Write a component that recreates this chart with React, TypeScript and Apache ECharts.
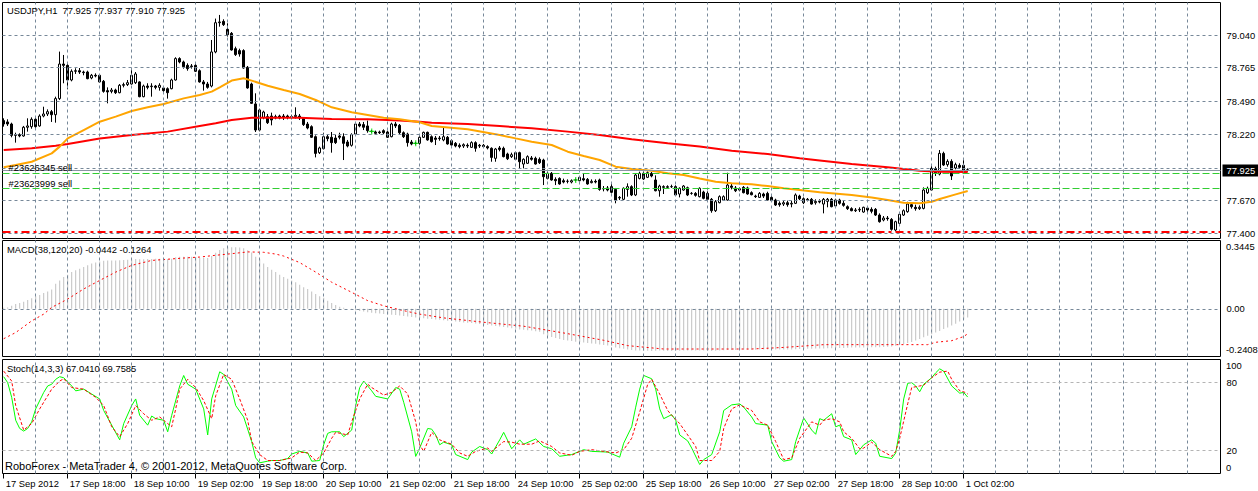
import React, { useEffect, useRef } from 'react';
import * as echarts from 'echarts';

// ---------------- DATA ----------------
const OPEN = [
  78.332,78.321,78.304,78.210,78.216,78.205,78.277,78.282,78.343,78.288,
  78.370,78.387,78.406,78.381,78.514,78.800,78.789,78.668,78.740,78.745,
  78.734,78.734,78.685,78.707,78.707,78.657,78.580,78.574,78.585,78.563,
  78.624,78.630,78.635,78.646,78.652,78.530,78.618,78.613,78.618,78.607,
  78.602,78.596,78.596,78.668,78.845,78.817,78.789,78.778,78.789,78.745,
  78.652,78.635,78.618,78.900,79.142,79.153,79.087,79.054,78.927,78.911,
  78.911,78.773,78.635,78.470,78.254,78.359,78.365,78.370,78.365,78.370,
  78.370,78.370,78.365,78.365,78.370,78.348,78.304,78.282,78.199,78.067,
  78.100,78.199,78.194,78.188,78.205,78.199,78.155,78.128,78.221,78.304,
  78.299,78.288,78.243,78.238,78.238,78.249,78.238,78.199,78.304,78.293,
  78.232,78.221,78.155,78.144,78.144,78.194,78.235,78.199,78.188,78.183,
  78.172,78.194,78.166,78.144,78.128,78.122,78.128,78.111,78.150,78.122,
  78.128,78.117,78.103,78.020,78.106,78.103,78.056,78.034,78.012,78.067,
  77.973,77.979,78.023,78.020,78.012,78.006,77.854,77.896,77.846,77.854,
  77.835,77.830,77.824,77.841,77.835,77.852,77.846,77.819,77.830,77.841,
  77.769,77.775,77.786,77.763,77.692,77.681,77.763,77.786,77.717,77.854,
  77.896,77.863,77.896,77.841,77.752,77.786,77.780,77.786,77.786,77.725,
  77.758,77.777,77.730,77.730,77.703,77.741,77.730,77.681,77.587,77.653,
  77.675,77.675,77.791,77.775,77.758,77.780,77.775,77.736,77.708,77.697,
  77.725,77.730,77.697,77.675,77.648,77.642,77.653,77.642,77.648,77.708,
  77.686,77.675,77.681,77.653,77.664,77.642,77.664,77.681,77.626,77.675,
  77.648,77.620,77.604,77.587,77.593,77.576,77.609,77.598,77.598,77.551,
  77.510,77.526,77.515,77.427,77.482,77.551,77.579,77.637,77.615,77.604,
  77.606,77.736,77.758,77.935,77.890,78.061,77.968,77.995,77.940,77.962,
  77.962,77.925
];
const CLOSE = [
  78.304,78.304,78.210,78.216,78.205,78.277,78.288,78.343,78.282,78.370,
  78.387,78.406,78.381,78.514,78.800,78.789,78.668,78.740,78.745,78.734,
  78.729,78.679,78.707,78.701,78.652,78.574,78.569,78.585,78.563,78.624,
  78.630,78.646,78.707,78.718,78.530,78.618,78.607,78.618,78.607,78.624,
  78.580,78.563,78.668,78.845,78.817,78.778,78.762,78.784,78.740,78.652,
  78.635,78.607,78.900,79.142,79.148,79.126,79.043,78.916,78.878,78.883,
  78.767,78.602,78.475,78.254,78.420,78.403,78.315,78.337,78.354,78.354,
  78.359,78.359,78.359,78.376,78.354,78.299,78.271,78.194,78.061,78.106,
  78.199,78.183,78.150,78.150,78.194,78.144,78.122,78.216,78.304,78.288,
  78.277,78.249,78.243,78.227,78.232,78.232,78.194,78.304,78.288,78.232,
  78.199,78.150,78.139,78.144,78.194,78.235,78.172,78.158,78.177,78.188,
  78.199,78.139,78.130,78.122,78.117,78.133,78.122,78.150,78.103,78.128,
  78.117,78.106,78.028,78.097,78.094,78.034,78.017,78.050,78.067,77.992,
  78.012,78.034,78.012,77.973,77.984,77.868,77.896,77.841,77.835,77.808,
  77.824,77.830,77.835,77.841,77.863,77.841,77.808,77.830,77.824,77.763,
  77.769,77.758,77.739,77.675,77.697,77.772,77.786,77.717,77.882,77.896,
  77.849,77.901,77.874,77.752,77.791,77.780,77.786,77.786,77.717,77.772,
  77.791,77.717,77.730,77.714,77.772,77.689,77.681,77.587,77.661,77.703,
  77.703,77.799,77.780,77.752,77.769,77.736,77.725,77.719,77.703,77.730,
  77.708,77.675,77.670,77.634,77.637,77.653,77.637,77.648,77.717,77.686,
  77.653,77.681,77.642,77.664,77.659,77.681,77.681,77.620,77.675,77.648,
  77.631,77.604,77.587,77.593,77.598,77.615,77.593,77.582,77.551,77.496,
  77.526,77.521,77.433,77.496,77.557,77.587,77.642,77.620,77.604,77.615,
  77.758,77.772,77.937,77.896,78.061,77.965,77.995,77.874,77.968,77.946,
  77.918,77.925
];
const HIGH = [
  78.351,78.343,78.315,78.232,78.227,78.288,78.351,78.359,78.359,78.384,
  78.447,78.425,78.420,78.530,78.903,78.875,78.806,78.756,78.765,78.767,
  78.745,78.745,78.718,78.723,78.718,78.668,78.607,78.602,78.596,78.635,
  78.646,78.668,78.751,78.734,78.657,78.630,78.641,78.641,78.627,78.641,
  78.618,78.607,78.679,78.856,78.856,78.828,78.806,78.800,78.800,78.756,
  78.668,78.652,78.999,79.176,79.206,79.170,79.137,79.065,78.944,78.927,
  78.922,78.784,78.646,78.558,78.431,78.414,78.387,78.398,78.381,78.381,
  78.387,78.381,78.381,78.442,78.387,78.359,78.321,78.293,78.210,78.117,
  78.232,78.216,78.238,78.216,78.232,78.227,78.172,78.227,78.321,78.321,
  78.321,78.332,78.254,78.249,78.249,78.260,78.249,78.315,78.321,78.304,
  78.243,78.232,78.172,78.155,78.205,78.241,78.241,78.210,78.205,78.205,
  78.274,78.205,78.177,78.155,78.144,78.144,78.144,78.161,78.161,78.139,
  78.139,78.128,78.111,78.106,78.122,78.117,78.067,78.067,78.075,78.075,
  78.020,78.045,78.039,78.034,78.028,78.017,77.907,77.907,77.863,77.863,
  77.852,77.846,77.846,77.852,77.874,77.890,77.857,77.846,77.846,77.852,
  77.791,77.791,77.808,77.775,77.708,77.780,77.813,77.797,77.896,77.910,
  77.907,77.912,77.907,77.879,77.802,77.797,77.797,77.802,77.797,77.780,
  77.799,77.786,77.741,77.741,77.780,77.752,77.747,77.692,77.675,77.714,
  77.714,77.901,77.808,77.791,77.780,77.791,77.786,77.747,77.719,77.741,
  77.736,77.744,77.708,77.686,77.664,77.670,77.670,77.670,77.730,77.719,
  77.697,77.692,77.692,77.681,77.681,77.692,77.692,77.692,77.686,77.686,
  77.670,77.631,77.615,77.609,77.615,77.620,77.620,77.615,77.609,77.565,
  77.543,77.543,77.526,77.504,77.565,77.598,77.661,77.653,77.637,77.631,
  77.780,77.786,77.957,77.951,78.089,78.075,78.012,78.012,77.984,77.979,
  78.012,77.937
];
const LOW = [
  78.282,78.288,78.194,78.150,78.194,78.199,78.241,78.265,78.265,78.282,
  78.359,78.370,78.321,78.315,78.503,78.641,78.591,78.657,78.718,78.718,
  78.707,78.674,78.674,78.690,78.646,78.563,78.475,78.558,78.552,78.558,
  78.607,78.618,78.630,78.635,78.525,78.525,78.591,78.530,78.591,78.580,
  78.569,78.514,78.591,78.663,78.806,78.762,78.745,78.762,78.734,78.646,
  78.580,78.596,78.607,78.889,79.109,79.115,79.027,78.911,78.867,78.861,
  78.762,78.596,78.470,78.238,78.243,78.343,78.304,78.293,78.343,78.343,
  78.337,78.343,78.343,78.348,78.337,78.288,78.260,78.188,78.028,78.056,
  78.094,78.161,78.067,78.139,78.177,78.006,78.111,78.117,78.216,78.277,
  78.254,78.232,78.232,78.216,78.221,78.221,78.188,78.194,78.271,78.221,
  78.188,78.117,78.128,78.133,78.133,78.188,78.166,78.150,78.130,78.166,
  78.161,78.133,78.122,78.111,78.103,78.106,78.106,78.106,78.075,78.106,
  78.106,78.094,77.992,77.992,78.078,78.028,78.006,78.023,78.006,77.937,
  77.937,77.973,78.001,77.968,77.973,77.799,77.846,77.835,77.799,77.802,
  77.813,77.813,77.813,77.830,77.830,77.830,77.802,77.813,77.813,77.752,
  77.747,77.747,77.730,77.648,77.675,77.675,77.703,77.708,77.708,77.846,
  77.841,77.857,77.863,77.747,77.703,77.725,77.769,77.775,77.708,77.697,
  77.752,77.708,77.719,77.703,77.697,77.681,77.675,77.570,77.576,77.648,
  77.670,77.670,77.763,77.741,77.747,77.730,77.719,77.714,77.692,77.692,
  77.692,77.670,77.659,77.626,77.620,77.626,77.620,77.615,77.642,77.675,
  77.642,77.664,77.637,77.637,77.648,77.565,77.615,77.615,77.615,77.637,
  77.620,77.593,77.582,77.576,77.576,77.570,77.576,77.565,77.543,77.488,
  77.499,77.504,77.422,77.416,77.477,77.543,77.570,77.604,77.587,77.593,
  77.598,77.725,77.752,77.874,77.879,77.957,77.951,77.841,77.929,77.935,
  77.912,77.910
];

// moving averages: [bar, price]
const MA_FAST = [
  [0,77.946],[3,77.965],[7,77.992],[12,78.061],[14,78.117],[16,78.185],[20,78.254],[24,78.323],
  [28,78.365],[32,78.412],[36,78.442],[40,78.470],[45,78.516],[49,78.544],[52,78.572],[54,78.607],
  [57,78.663],[60,78.682],[62,78.663],[66,78.621],[70,78.585],[74,78.552],[78,78.503],[82,78.442],
  [87,78.401],[91,78.379],[95,78.356],[99,78.343],[104,78.318],[107,78.288],[116,78.260],[124,78.213],
  [128,78.185],[132,78.158],[137,78.130],[141,78.075],[145,78.039],[149,78.006],[153,77.951],[157,77.932],
  [162,77.918],[166,77.896],[170,77.882],[174,77.854],[178,77.827],[182,77.813],[187,77.805],[191,77.791],
  [195,77.772],[199,77.758],[204,77.739],[212,77.717],[217,77.697],[221,77.675],[225,77.653],[229,77.648],
  [232,77.661],[234,77.684],[238,77.722],[241,77.750]
];
const MA_SLOW = [
  [0,78.089],[7,78.103],[13,78.125],[16,78.139],[24,78.185],[32,78.213],[41,78.241],[49,78.287],
  [53,78.310],[57,78.337],[62,78.356],[74,78.356],[82,78.345],[91,78.343],[99,78.332],[104,78.323],
  [107,78.315],[116,78.304],[124,78.287],[132,78.268],[141,78.241],[149,78.213],[157,78.177],[166,78.144],
  [174,78.117],[182,78.083],[191,78.056],[199,78.020],[204,78.003],[212,77.973],[221,77.946],[229,77.918],
  [234,77.910],[241,77.907]
];

const MACD_HIST = [
  0.005,0.007,0.015,0.024,0.029,0.036,0.044,0.053,0.063,0.070,
  0.080,0.087,0.097,0.126,0.143,0.160,0.172,0.185,0.194,0.202,
  0.211,0.219,0.228,0.233,0.239,0.242,0.244,0.244,0.244,0.245,
  0.246,0.247,0.249,0.251,0.250,0.250,0.251,0.251,0.252,0.252,
  0.252,0.251,0.253,0.260,0.262,0.263,0.262,0.262,0.261,0.258,
  0.257,0.256,0.266,0.283,0.297,0.306,0.311,0.311,0.311,0.309,
  0.305,0.295,0.284,0.262,0.250,0.228,0.211,0.197,0.185,0.172,
  0.160,0.151,0.143,0.134,0.121,0.109,0.100,0.087,0.075,0.063,
  0.056,0.041,0.029,0.019,0.010,0.005,0.000,-0.004,-0.008,-0.011,
  -0.014,-0.017,-0.020,-0.022,-0.024,-0.026,-0.029,-0.030,-0.032,-0.034,
  -0.036,-0.039,-0.042,-0.044,-0.046,-0.048,-0.050,-0.052,-0.054,-0.056,
  -0.058,-0.060,-0.062,-0.064,-0.067,-0.069,-0.071,-0.072,-0.074,-0.077,
  -0.080,-0.082,-0.085,-0.087,-0.089,-0.092,-0.095,-0.098,-0.101,-0.104,
  -0.106,-0.108,-0.110,-0.113,-0.116,-0.128,-0.136,-0.142,-0.148,-0.153,
  -0.157,-0.160,-0.163,-0.166,-0.168,-0.170,-0.173,-0.175,-0.177,-0.180,
  -0.183,-0.185,-0.188,-0.195,-0.199,-0.202,-0.205,-0.208,-0.210,-0.211,
  -0.212,-0.212,-0.213,-0.212,-0.211,-0.212,-0.213,-0.213,-0.212,-0.212,
  -0.211,-0.211,-0.211,-0.210,-0.211,-0.211,-0.212,-0.213,-0.212,-0.210,
  -0.209,-0.208,-0.208,-0.208,-0.207,-0.207,-0.207,-0.207,-0.207,-0.206,
  -0.206,-0.206,-0.206,-0.206,-0.206,-0.206,-0.205,-0.205,-0.204,-0.203,
  -0.203,-0.202,-0.202,-0.201,-0.200,-0.200,-0.199,-0.199,-0.198,-0.198,
  -0.198,-0.197,-0.196,-0.196,-0.195,-0.195,-0.194,-0.194,-0.194,-0.194,
  -0.193,-0.192,-0.190,-0.186,-0.182,-0.178,-0.173,-0.168,-0.160,-0.152,
  -0.144,-0.136,-0.128,-0.120,-0.112,-0.102,-0.094,-0.085,-0.075,-0.064,
  -0.054,-0.044
];
const MACD_SIGNAL = [
  [0,-0.151],[3,-0.120],[7,-0.061],[10,-0.027],[12,0.007],[16,0.049],[20,0.100],[24,0.143],
  [28,0.185],[32,0.219],[37,0.244],[41,0.250],[45,0.256],[49,0.261],[53,0.270],[57,0.278],
  [61,0.287],[65,0.285],[68,0.276],[70,0.266],[74,0.233],[78,0.185],[82,0.134],[87,0.083],
  [91,0.041],[95,0.015],[99,-0.005],[104,-0.027],[110,-0.046],[120,-0.068],[130,-0.088],[140,-0.122],
  [150,-0.159],[156,-0.186],[165,-0.203],[187,-0.203],[195,-0.195],[205,-0.181],[231,-0.181],[233,-0.169],
  [237,-0.161],[240,-0.140],[241,-0.126]
];

const STOCH_MAIN = [
  [0,84.9],[1,79.7],[2,66.8],[3,46.7],[4,39.5],[5,37.2],[6,39.5],[7,45.3],[8,56.7],[10,71.1],
  [11,76.8],[12,78.3],[13,82.6],[14,84.9],[15,84.0],[17,76.8],[18,72.5],[20,74.0],[22,69.7],[24,65.4],
  [25,55.3],[27,42.4],[29,29.5],[30,43.8],[32,59.6],[33,65.4],[34,51.0],[36,42.4],[37,50.4],[38,48.1],
  [40,46.7],[41,36.6],[42,51.0],[44,76.8],[45,86.0],[46,78.3],[48,74.0],[50,56.7],[51,33.8],[52,65.4],
  [54,89.2],[55,86.9],[57,74.0],[58,59.6],[60,49.6],[62,28.0],[63,13.7],[64,9.4],[66,10.8],[67,11.4],
  [69,11.4],[71,13.1],[72,17.1],[74,19.4],[76,18.0],[77,10.8],[79,11.4],[80,25.2],[81,35.2],[82,36.6],
  [84,36.6],[85,32.3],[87,38.1],[88,59.6],[89,75.4],[90,81.1],[92,72.5],[93,67.7],[96,65.4],[98,75.4],
  [99,74.0],[100,62.5],[102,36.6],[103,15.0],[104,22.3],[106,39.5],[107,38.9],[108,33.8],[109,25.2],[110,27.5],
  [112,25.2],[113,16.6],[116,12.2],[117,18.8],[119,23.7],[121,20.9],[122,17.1],[124,29.5],[125,36.1],[127,21.7],
  [129,29.5],[130,25.7],[133,30.3],[135,23.7],[137,21.7],[139,15.1],[142,16.6],[145,20.9],[147,19.4],[151,18.8],
  [154,14.3],[155,26.6],[157,41.0],[158,58.2],[159,74.0],[160,86.0],[162,83.1],[163,74.0],[164,56.7],[165,48.1],
  [167,51.6],[168,46.7],[169,33.8],[171,28.6],[172,22.3],[174,7.9],[175,12.2],[177,16.6],[179,36.6],[180,55.3],
  [182,60.2],[184,61.1],[185,58.2],[187,49.6],[188,43.8],[191,42.4],[192,28.0],[194,13.7],[195,10.8],[197,12.2],
  [198,28.0],[200,48.7],[202,38.1],[203,34.4],[204,48.1],[205,46.7],[207,52.4],[208,41.0],[209,42.4],[210,32.3],
  [212,29.5],[213,16.6],[214,20.9],[215,25.2],[217,29.5],[218,26.6],[219,15.1],[222,13.1],[223,18.0],[224,38.1],
  [225,65.4],[226,79.1],[227,79.7],[228,76.8],[229,71.7],[230,78.3],[232,84.0],[233,88.3],[234,91.8],[235,89.8],
  [237,76.8],[239,70.5],[240,71.1],[241,67.04]
];
const STOCH_SIGNAL = [
  [0,89.8],[2,81.1],[3,59.6],[5,38.1],[7,43.8],[9,56.7],[12,74.0],[14,81.1],[15,83.1],[17,75.4],
  [20,74.0],[23,66.8],[25,59.6],[27,41.0],[29,32.3],[31,43.8],[33,59.6],[35,52.4],[37,46.7],[39,49.6],
  [41,43.8],[42,41.0],[43,56.7],[44,74.0],[46,82.6],[48,75.4],[50,63.9],[52,48.1],[53,68.2],[55,86.9],
  [57,82.6],[59,65.4],[61,46.7],[62,28.0],[64,16.6],[66,11.4],[69,11.4],[72,13.7],[74,18.8],[76,18.0],
  [78,11.4],[80,18.0],[82,30.9],[83,36.1],[86,33.8],[87,45.3],[89,65.4],[91,78.3],[92,75.4],[95,68.8],
  [97,71.1],[99,76.8],[101,69.7],[103,45.3],[104,25.2],[105,19.4],[107,36.1],[109,29.5],[112,25.7],[114,18.0],
  [116,15.1],[118,19.4],[121,22.3],[122,19.4],[125,28.0],[127,27.5],[129,25.7],[132,25.7],[134,28.6],[137,23.7],
  [139,18.0],[142,16.0],[144,19.4],[147,20.9],[150,19.4],[153,18.0],[155,20.9],[157,30.9],[159,53.9],[161,78.3],
  [162,82.6],[164,69.7],[166,55.3],[167,51.0],[169,43.8],[171,33.8],[173,23.7],[174,11.4],[177,11.4],[179,19.4],
  [180,39.5],[182,56.7],[184,60.2],[187,55.3],[189,45.3],[191,42.4],[193,28.0],[195,12.2],[197,13.7],[199,30.9],
  [202,45.3],[204,42.4],[205,46.7],[207,48.1],[209,45.3],[210,36.6],[212,30.9],[214,21.7],[215,22.3],[217,27.5],
  [219,20.9],[222,15.1],[223,19.4],[224,30.9],[226,61.1],[227,75.4],[229,76.8],[230,77.4],[232,84.0],[234,88.9],
  [236,89.8],[237,82.6],[239,72.5],[240,71.7],[241,69.76]
];

const TRADE_MARKS = [[92, 78.243], [103, 78.144], [143, 77.841]];

const TIME_LABELS = [
  '17 Sep 2012', '17 Sep 18:00', '18 Sep 10:00', '19 Sep 02:00', '19 Sep 18:00', '20 Sep 10:00',
  '21 Sep 02:00', '21 Sep 18:00', '24 Sep 10:00', '25 Sep 02:00', '25 Sep 18:00', '26 Sep 10:00',
  '27 Sep 02:00', '27 Sep 18:00', '28 Sep 10:00', '1 Oct 02:00'
];
const TIME_LABEL_BARS = [0, 16, 32, 48, 64, 80, 96, 112, 128, 144, 160, 176, 192, 208, 224, 240];

const PRICE_TICKS = [79.04, 78.765, 78.49, 78.22, 77.945, 77.67, 77.4];
const PRICE_TICK_LABELS = ['79.040', '78.765', '78.490', '78.220', '', '77.670', '77.400'];
const BID = 77.925;
const ORDERS = [
  { name: '#23626345 sell', price: 77.896 },
  { name: '#23623999 sell', price: 77.772 }
];
const STOP_LEVEL = 77.408;
const STOCH_LEVELS = [80, 20];

const HEADER = 'USDJPY,H1\u00a0 77.925 77.937 77.910 77.925';
const MACD_TITLE = 'MACD(38,120,20) -0.0442 -0.1264';
const STOCH_TITLE = 'Stoch(14,3,3) 67.0410 69.7585';
const COPYRIGHT = 'RoboForex - MetaTrader 4, \u00a9 2001-2012, MetaQuotes Software Corp.';

// ---------------- STYLE / LAYOUT ----------------
const FONT = '"Liberation Sans", Arial, sans-serif';
const FS = 9.4;
const GRID_COLOR = '#778899';
const XMIN = -0.3;
const XMAX = 304.2;
const V_GRID: number[] = [];
for (let b = 8; b <= 296; b += 8) V_GRID.push(b);

function buildOption() {
  const bars = OPEN.map((o, i) => [i, o, CLOSE[i], LOW[i], HIGH[i]]);
  const vLines = V_GRID.map((b) => ({ xAxis: b }));
  const gridLine = { color: GRID_COLOR, width: 1, type: [3, 3] };
  const endLabel = (txt: string) => ({
    show: txt !== '', position: 'end', formatter: txt, color: '#000',
    fontSize: FS, fontFamily: FONT, distance: 6
  });

  const gridSeries = (idx: number, extra: any[]) => ({
    type: 'line', xAxisIndex: idx, yAxisIndex: idx, data: [], silent: true, z: 1,
    markLine: {
      silent: true, symbol: ['none', 'none'], animation: false,
      lineStyle: gridLine, label: { show: false },
      data: [...vLines, ...extra]
    }
  });

  const mainExtra: any[] = PRICE_TICKS.map((v, i) => ({ yAxis: v, label: endLabel(PRICE_TICK_LABELS[i]) }));
  mainExtra.push({ yAxis: STOP_LEVEL, lineStyle: { color: '#ff0000', width: 2, type: [8, 4, 3, 4] } });
  ORDERS.forEach((o) => mainExtra.push({
    yAxis: o.price,
    lineStyle: { color: '#32cd32', width: 1, type: [7, 3] },
    label: { show: true, position: 'insideStartTop', formatter: o.name, color: '#000', fontSize: FS, fontFamily: FONT, distance: [6, 1] }
  }));
  mainExtra.push({
    yAxis: BID, lineStyle: { color: '#8a96a3', width: 1, type: 'solid' },
    label: { show: true, position: 'end', formatter: BID.toFixed(3), color: '#fff', backgroundColor: '#000',
      fontSize: FS, fontFamily: FONT, padding: [2, 4, 1, 4], distance: 2 }
  });

  const macdExtra = [{ yAxis: 0, label: endLabel('0.00') }];
  const stochExtra = STOCH_LEVELS.map((v) => ({
    yAxis: v, lineStyle: { color: '#b4b4b4', width: 1, type: [3, 3] }, label: endLabel(String(v))
  }));

  const xBase = { type: 'value', min: XMIN, max: XMAX, show: false, splitLine: { show: false } };
  const txt = (text: string, left: number, top: number, size = FS) => ({
    type: 'text', left, top, z: 100, silent: true,
    style: { text, fill: '#000', fontSize: size, fontFamily: FONT }
  });
  const border = { show: true, borderColor: '#000', borderWidth: 1, backgroundColor: '#fff' };

  return {
    animation: false,
    backgroundColor: '#fff',
    grid: [
      { left: 2.5, top: 2.5, width: 1218, height: 236, ...border },
      { left: 2.5, top: 240.5, width: 1218, height: 116, ...border },
      { left: 2.5, top: 359.5, width: 1218, height: 114, ...border }
    ],
    xAxis: [
      { ...xBase, gridIndex: 0 },
      { ...xBase, gridIndex: 1 },
      {
        type: 'value', gridIndex: 2, min: XMIN, max: XMAX, show: true,
        axisLine: { show: false }, splitLine: { show: false },
        axisTick: { show: true, customValues: TIME_LABEL_BARS, length: 5, lineStyle: { color: '#000' } },
        axisLabel: {
          show: true, customValues: TIME_LABEL_BARS, align: 'left', margin: 5,
          padding: [0, 0, 0, 2], color: '#000', fontSize: FS, fontFamily: FONT,
          formatter: (v: number) => TIME_LABELS[TIME_LABEL_BARS.indexOf(Math.round(v))] || ''
        }
      }
    ],
    yAxis: [
      { type: 'value', gridIndex: 0, min: 77.357, max: 79.309, show: false, splitLine: { show: false } },
      { type: 'value', gridIndex: 1, min: -0.2408, max: 0.3445, show: false, splitLine: { show: false } },
      { type: 'value', gridIndex: 2, min: 0, max: 100, show: false, splitLine: { show: false } }
    ],
    series: [
      gridSeries(0, mainExtra),
      gridSeries(1, macdExtra),
      gridSeries(2, stochExtra),
      {
        type: 'candlestick', xAxisIndex: 0, yAxisIndex: 0, data: bars, barWidth: 2, z: 2,
        itemStyle: { color: '#fff', color0: '#000', borderColor: '#000', borderColor0: '#000', borderWidth: 1 }
      },
      {
        type: 'line', xAxisIndex: 0, yAxisIndex: 0, data: MA_SLOW, showSymbol: false, z: 3,
        lineStyle: { color: '#ff0000', width: 2 }
      },
      {
        type: 'line', xAxisIndex: 0, yAxisIndex: 0, data: MA_FAST, showSymbol: false, z: 3,
        lineStyle: { color: '#ffa500', width: 2 }
      },
      {
        type: 'scatter', xAxisIndex: 0, yAxisIndex: 0, data: TRADE_MARKS, z: 4,
        symbol: 'path://M0,4H10V6H0Z M4,0H6V10H4Z', symbolSize: 6, itemStyle: { color: '#00dd00' }
      },
      {
        type: 'bar', xAxisIndex: 1, yAxisIndex: 1, data: MACD_HIST.map((v, i) => [i, v]),
        barWidth: 1, itemStyle: { color: '#c0c0c0' }, z: 2
      },
      {
        type: 'line', xAxisIndex: 1, yAxisIndex: 1, data: MACD_SIGNAL, showSymbol: false, z: 3,
        lineStyle: { color: '#ff0000', width: 1, type: [2, 3] }
      },
      {
        type: 'line', xAxisIndex: 2, yAxisIndex: 2, data: STOCH_MAIN, showSymbol: false, z: 3,
        lineStyle: { color: '#00ff00', width: 1 }
      },
      {
        type: 'line', xAxisIndex: 2, yAxisIndex: 2, data: STOCH_SIGNAL, showSymbol: false, z: 4,
        lineStyle: { color: '#ff0000', width: 1, type: [3, 2] }
      }
    ],
    graphic: [
      txt(HEADER, 7, 6),
      txt(MACD_TITLE, 7, 245),
      txt(STOCH_TITLE, 7, 363.5),
      txt(COPYRIGHT, 5, 460, 11),
      txt('0.3445', 1226, 242),
      txt('-0.2408', 1226, 344.5),
      txt('100', 1226, 361),
      txt('0', 1226, 463)
    ]
  };
}

export default function App() {
  const ref = useRef<HTMLDivElement>(null);
  useEffect(() => {
    document.body.style.margin = '0';
    const chart = echarts.init(ref.current as HTMLDivElement, null, { renderer: 'svg' });
    chart.setOption(buildOption() as any);
    return () => chart.dispose();
  }, []);
  return <div ref={ref} style={{ position: 'absolute', left: 0, top: 0, width: 1258, height: 491 }} />;
}
